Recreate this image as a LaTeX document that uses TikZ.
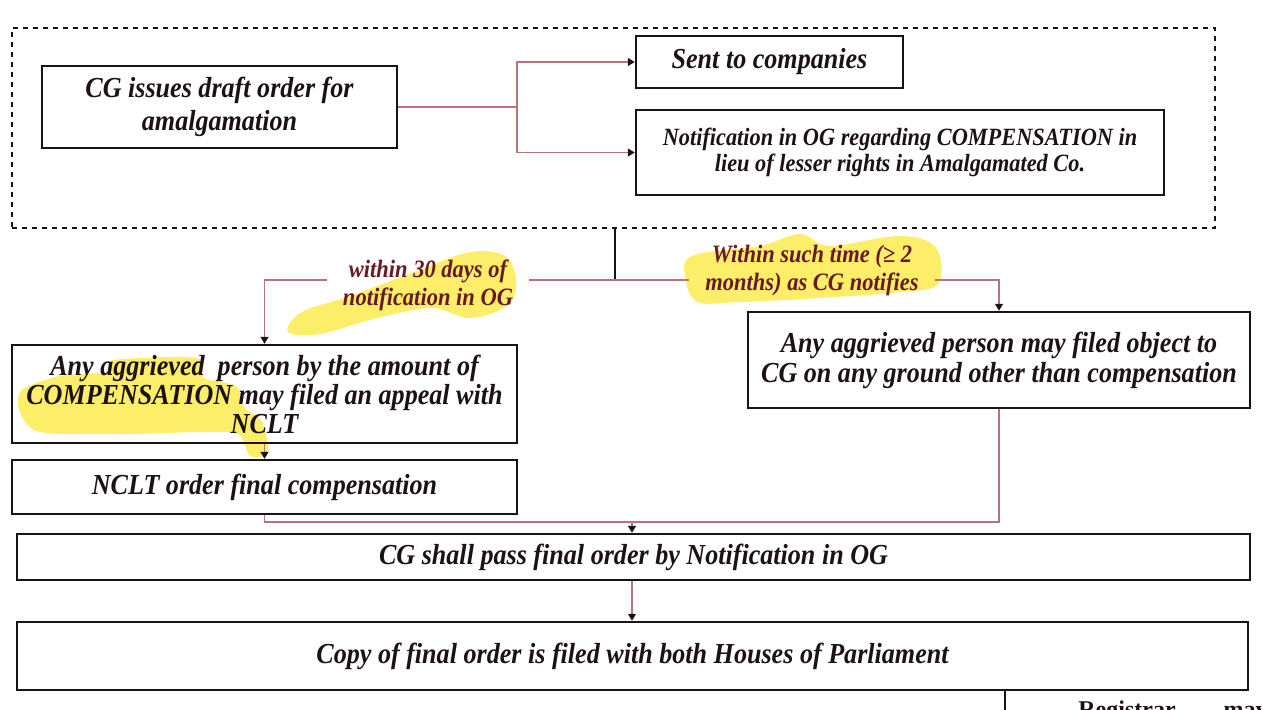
\documentclass[tikz,border=0pt]{standalone}
\usepackage{fontspec}
\setmainfont{Liberation Serif}
\newfontfamily\flowfont{Liberation Serif}[FakeStretch=0.9]
\usetikzlibrary{arrows.meta}
\definecolor{inkc}{RGB}{28,18,20}
\definecolor{wirec}{RGB}{185,115,125}
\definecolor{notec}{RGB}{105,25,35}
\definecolor{markc}{RGB}{252,238,105}

\begin{document}
\begin{tikzpicture}[x=0.5pt,y=-0.5pt,
  stepbox/.style={draw=inkc, line width=1.25pt, align=center, inner sep=0pt, text=inkc,
    font=\flowfont\bfseries\itshape\fontsize{14.5}{16.5}\selectfont},
  groupbox/.style={draw=inkc, line width=0.9pt, dash pattern=on 2.5pt off 2.5pt, inner sep=0pt},
  wire/.style={draw=wirec, line width=0.6pt},
  trunk/.style={draw=inkc, line width=0.6pt},
  tip/.style={-{Triangle[length=3.5pt,width=4pt,color=inkc]}},
  note/.style={align=center, text=notec, inner xsep=8pt, inner ysep=2pt,
    font=\flowfont\bfseries\itshape\fontsize{12.5}{14}\selectfont},
  marker/.style={fill=markc, draw=none},
]
\useasboundingbox (0,0) rectangle (1263,709);
\clip (0,0) rectangle (1263,709);

% highlighter strokes behind the texts
\fill[marker] plot[smooth cycle, tension=0.6] coordinates {(288,332) (302,312) (350,296) (420,270) (470,252) (505,256) (516,280) (508,305) (470,318) (430,308) (370,320) (320,334)};
\fill[marker] plot[smooth cycle, tension=0.6] coordinates {(692,256) (760,246) (800,234) (830,246) (900,236) (936,248) (938,284) (900,292) (820,298) (740,302) (698,302) (686,280)};
\fill[marker] plot[smooth cycle, tension=0.5] coordinates {(22,390) (60,376) (108,372) (114,360) (196,358) (204,378) (236,386) (244,407) (262,422) (268,452) (250,456) (238,434) (200,432) (120,434) (40,432) (20,412)};

% grouped first stage
\node[groupbox, minimum width=601.5pt, minimum height=100pt] (stage) at (613.5,128) {};
\node[stepbox, minimum width=177.5pt, minimum height=41pt] (cg) at (219.5,107)
  {CG issues draft order for\\amalgamation};
\node[stepbox, minimum width=133.5pt, minimum height=26pt] (sent) at (769.5,62)
  {Sent to companies};
\node[stepbox, minimum width=264pt, minimum height=42.5pt,
  font=\flowfont\bfseries\itshape\fontsize{12.4}{13}\selectfont] (notif) at (900,152.5)
  {Notification in OG regarding COMPENSATION in\\lieu of lesser rights in Amalgamated Co.};

% time limits
\node[note] (lab1) at (428,285) {within 30 days of\\notification in OG};
\node[note] (lab2) at (812,270) {Within such time (≥ 2\\months) as CG notifies};

% objections and appeal
\node[stepbox, minimum width=252.5pt, minimum height=49pt,
  font=\flowfont\bfseries\itshape\fontsize{14.5}{14.5}\selectfont] (appeal) at (264.5,394)
  {Any aggrieved\ \ person by the amount of\\COMPENSATION may filed an appeal with\\NCLT};
\node[stepbox, minimum width=251pt, minimum height=48pt,
  font=\flowfont\bfseries\itshape\fontsize{14.5}{15}\selectfont] (object) at (999,360)
  {Any aggrieved person may filed object to\\CG on any ground other than compensation};
\node[stepbox, minimum width=252.5pt, minimum height=27pt] (nclt) at (264.5,487)
  {NCLT order final compensation};

% final stage
\node[stepbox, minimum width=616.5pt, minimum height=23pt] (final) at (633.5,557)
  {CG shall pass final order by Notification in OG};
\node[stepbox, minimum width=615.5pt, minimum height=34pt] (copy) at (632.5,656)
  {Copy of final order is filed with both Houses of Parliament};

% next row, cut by the page edge
\coordinate (edge) at (1005,712);
\draw[draw=inkc, line width=1.1pt] (copy.south -| edge) -- (edge);
\node[anchor=north west, inner sep=0pt, text=inkc, font=\bfseries\fontsize{12}{14}\selectfont] (reg) at (1078,700)
  {Registrar\hspace{24pt}may};

% connectors
\coordinate (split) at (517,107);
\draw[wire] (cg.east) -- (split);
\draw[wire,tip] (split) |- (sent.west);
\draw[wire,tip] (split) |- (notif.west);

\coordinate (fork) at (615,280);
\draw[trunk] (stage.south -| fork) -- (fork);
\draw[wire] (fork) -- (lab1.east |- fork);
\draw[wire,tip] (lab1.west |- fork) -| (appeal.north);
\draw[wire] (fork) -- (lab2.west |- fork);
\draw[wire,tip] (lab2.east |- fork) -| (object.north);

\draw[wire,tip] (appeal.south) -- (nclt.north);

\coordinate (merge) at (632,522);
\draw[wire] (nclt.south) |- (merge);
\draw[wire] (object.south) |- (merge);
\draw[wire,tip] (merge) -- (merge |- final.north);
\draw[wire,tip] (final.south -| merge) -- (copy.north -| merge);
\end{tikzpicture}
\end{document}
